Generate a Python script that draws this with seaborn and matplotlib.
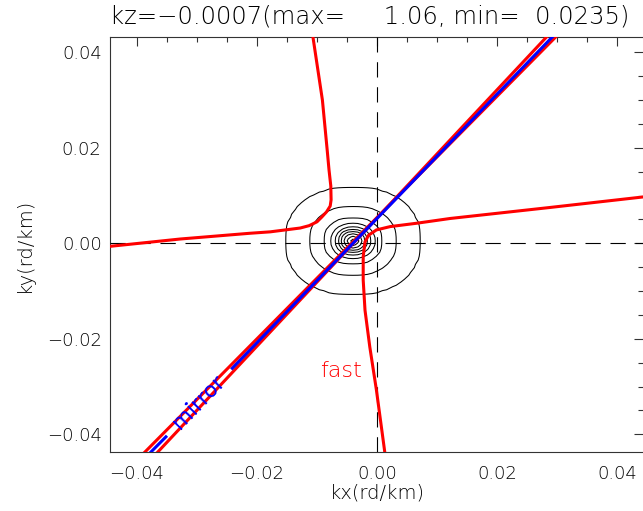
import numpy as np
import pandas as pd
import matplotlib
matplotlib.use("Agg")
import matplotlib.pyplot as plt
from matplotlib.ticker import MultipleLocator, FuncFormatter
import seaborn as sns

# ------------------------------------------------------------------ data
title_text = "kz=\u22120.0007(max=     1.06, min=  0.0235)"
x_label = "kx(rd/km)"
y_label = "ky(rd/km)"
x_range = [-0.0445, 0.0445]
y_range = [-0.0437, 0.0432]

# fast-mode curve, upper-left branch
fast_a_kx = [-0.0109, -0.0107, -0.0091, -0.0083, -0.0080, -0.0077, -0.00765,
             -0.0078, -0.0084, -0.0092, -0.0100, -0.0113, -0.0128, -0.0178,
             -0.0212, -0.0328, -0.0450]
fast_a_ky = [0.0445, 0.0434, 0.0300, 0.0195, 0.0154, 0.0120, 0.0091,
             0.0078, 0.0066, 0.0055, 0.0045, 0.0037, 0.0032, 0.0024,
             0.0021, 0.0009, -0.0007]

# fast-mode curve, lower-right branch
fast_b_kx = [0.0450, 0.0288, 0.0122, 0.0066, 0.0022, -0.0001, -0.0014,
             -0.0020, -0.0023, -0.0023, -0.0020, -0.0012, -0.0001, 0.0014]
fast_b_ky = [0.0098, 0.0075, 0.0052, 0.0042, 0.0035, 0.0028, 0.0017,
             0.0003, -0.0028, -0.0077, -0.0140, -0.0217, -0.0307, -0.0447]

# mirror-mode threshold (red band edges)
mirror_red_a_kx = [-0.0397, 0.0312]
mirror_red_a_ky = [-0.0450, 0.0450]
mirror_red_b_kx = [-0.0375, 0.0296]
mirror_red_b_ky = [-0.0450, 0.0450]

# mirror-mode contour (blue), broken where its label sits
mirror_low_kx = [-0.0387, -0.0350]
mirror_low_ky = [-0.0450, -0.0403]
mirror_high_kx = [-0.0243, 0.0306]
mirror_high_ky = [-0.0264, 0.0450]
mirror_dot_kx = [-0.0318]
mirror_dot_ky = [-0.0334]

peak_kx = -0.0040
peak_ky = 0.0005
profile_r = [0.0, 0.0006, 0.0009, 0.0015, 0.0020, 0.0024, 0.0029, 0.0036,
             0.0048, 0.0072, 0.0112, 0.0160, 0.0250]
profile_v = [1.06, 1.0, 0.9, 0.8, 0.7, 0.6, 0.5, 0.4, 0.3, 0.2, 0.1, 0.05,
             0.0235]
contour_levels = [0.1, 0.2, 0.3, 0.4, 0.5, 0.6, 0.7, 0.8, 0.9, 1.0]

# labels
fast_label = "fast"
fast_label_pos = (-0.0025, -0.0280)
mirror_label = "mirror"
mirror_label_pos = (-0.0297, -0.0332)

# ------------------------------------------------------------------ style
sns.set_theme(style="white")
plt.rcParams["font.family"] = ["DejaVu Sans"]
plt.rcParams["font.weight"] = "light"
plt.rcParams["axes.titleweight"] = "light"
plt.rcParams["axes.labelweight"] = "light"
plt.rcParams["lines.scale_dashes"] = False
plt.rcParams["axes.unicode_minus"] = True

W, H = 643, 511
fig = plt.figure(figsize=(W / 100, H / 100), dpi=100)
ax = fig.add_axes([110 / W, (H - 452) / H, (644 - 110) / W, (452 - 37) / H])
fig.patch.set_facecolor("white")
ax.set_facecolor("white")

# contour field (rounded rings)
kx_grid = peak_kx + 0.0008 * np.arange(-32, 33)
ky_grid = peak_ky + 0.0008 * np.arange(-30, 31)
KX, KY = np.meshgrid(kx_grid, ky_grid)
R = (np.abs(KX - peak_kx) ** 2.25 + np.abs(KY - peak_ky) ** 2.25) ** (1 / 2.25)
Z = np.interp(R, profile_r, profile_v)
ax.contour(KX, KY, Z, levels=contour_levels, colors="black",
           linewidths=0.75, zorder=2)

# zero lines
ax.axhline(0, color="black", lw=0.8, dashes=(11, 7), zorder=3)
ax.axvline(0, color="black", lw=0.8, dashes=(11, 7), zorder=3)

red = "#ff0000"
blue = "#0000ff"
lw_line = 2.2

def draw(xs, ys, color, lw, z):
    df = pd.DataFrame({"kx": xs, "ky": ys})
    sns.lineplot(data=df, x="kx", y="ky", sort=False, estimator=None,
                 color=color, lw=lw, ax=ax, zorder=z,
                 solid_capstyle="butt")

draw(fast_a_kx, fast_a_ky, red, lw_line, 4)
draw(fast_b_kx, fast_b_ky, red, lw_line, 4)
draw(mirror_red_a_kx, mirror_red_a_ky, red, lw_line, 4)
draw(mirror_red_b_kx, mirror_red_b_ky, red, lw_line, 4)
draw(mirror_low_kx, mirror_low_ky, blue, lw_line, 5)
draw(mirror_high_kx, mirror_high_ky, blue, lw_line, 5)
sns.scatterplot(x=mirror_dot_kx, y=mirror_dot_ky, color=blue, s=4,
                linewidth=0, ax=ax, zorder=5)

ax.text(*fast_label_pos, fast_label, color=red, fontsize=16,
        ha="right", va="baseline", zorder=6)
ax.text(*mirror_label_pos, mirror_label, color=blue, fontsize=15.5,
        fontweight="normal", rotation=46, rotation_mode="anchor",
        ha="center", va="center", zorder=6)

# axes
ax.set_xlim(*x_range)
ax.set_ylim(*y_range)
ax.xaxis.set_major_locator(MultipleLocator(0.02))
ax.xaxis.set_minor_locator(MultipleLocator(0.005))
ax.yaxis.set_major_locator(MultipleLocator(0.02))
ax.yaxis.set_minor_locator(MultipleLocator(0.005))
fmt = FuncFormatter(lambda v, p: ("%.2f" % (0.0 if abs(v) < 1e-9 else v)).replace("-", "\u2212"))
ax.xaxis.set_major_formatter(fmt)
ax.yaxis.set_major_formatter(fmt)

edge = "#333333"
ax.tick_params(which="both", direction="in", top=True, right=True,
               color=edge, width=0.8, labelcolor="black")
ax.tick_params(axis="x", which="major", length=6.5, pad=9, labelsize=13)
ax.tick_params(axis="x", which="minor", length=3.6)
ax.tick_params(axis="y", which="major", length=7.2, pad=6, labelsize=13)
ax.tick_params(axis="y", which="minor", length=4)
for s in ax.spines.values():
    s.set_visible(True)
    s.set_color(edge)
    s.set_linewidth(0.8)

ax.set_xlabel(x_label, fontsize=14, labelpad=1, color="black",
              fontweight="light")
ax.set_ylabel(y_label, fontsize=14, labelpad=9, color="black",
              fontweight="light")
ax.set_title(title_text, loc="left", fontsize=17.5, pad=9.5, color="black",
             fontweight="light")

fig.savefig("out.png", dpi=100, facecolor="white")
